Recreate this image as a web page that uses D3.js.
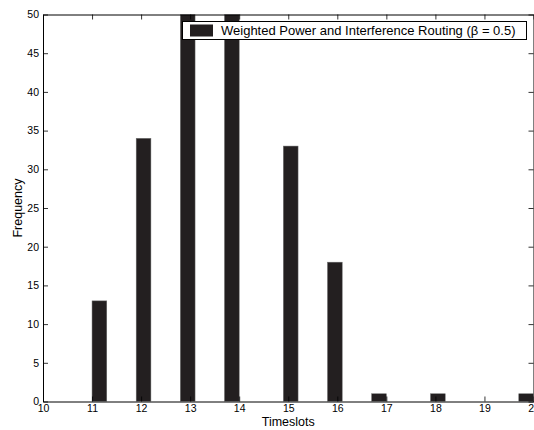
<!DOCTYPE html>
<html>
<head>
<meta charset="utf-8">
<script src="https://cdn.jsdelivr.net/npm/d3@7"></script>
<style>
  body { margin: 0; background: #fff; }
  text { font-family: "Liberation Sans", Arial, sans-serif; }
</style>
</head>
<body>
<div id="chart-container"></div>
<script>
// raw timeslot values and how often each came out
const timeslots = [11, 12, 13, 14, 15, 16, 17, 18, 19, 20];
const frequency = [13, 34, 58, 53, 33, 18, 1, 1, 0, 1];
const xTicks = [10, 11, 12, 13, 14, 15, 16, 17, 18, 19, 20];
const yTicks = [0, 5, 10, 15, 20, 25, 30, 35, 40, 45, 50];
const seriesName = 'Weighted Power and Interference Routing (\u03B2 = 0.5)';
const nBins = 30;

const width = 534;
const height = 430;
const margin = { top: 14.5, right: 0.5, bottom: 28.5, left: 43 };

const svg = d3.select('#chart-container')
  .append('svg')
  .attr('width', width)
  .attr('height', height);

const x = d3.scaleLinear()
  .domain([10, 20])
  .range([margin.left, width - margin.right]);

const y = d3.scaleLinear()
  .domain([0, 50])
  .range([height - margin.bottom, margin.top]);

// histogram bins like matlab hist(data, 30)
const lo = d3.min(timeslots), hi = d3.max(timeslots);
const binW = (hi - lo) / nBins;
const bins = d3.range(nBins).map(i => ({ x0: lo + i * binW, x1: lo + (i + 1) * binW, n: 0 }));
timeslots.forEach((v, i) => {
  let k = Math.ceil((v - lo) * nBins / (hi - lo) - 1e-9) - 1;
  k = Math.max(0, Math.min(nBins - 1, k));
  bins[k].n += frequency[i];
});

svg.append('clipPath').attr('id', 'plot')
  .append('rect')
  .attr('x', x(10)).attr('y', y(50))
  .attr('width', x(20) - x(10)).attr('height', y(0) - y(50));

svg.append('g')
  .attr('clip-path', 'url(#plot)')
  .selectAll('rect')
  .data(bins.filter(d => d.n > 0))
  .join('rect')
    .attr('x', d => x(d.x0))
    .attr('y', d => y(d.n))
    .attr('width', d => x(d.x1) - x(d.x0))
    .attr('height', d => y(0) - y(d.n))
    .attr('fill', '#231f20')
    .attr('stroke', '#6b6b6b')
    .attr('stroke-width', 0.5);

// axes, matlab style with ticks inside
const tick = 5;
const axBottom = svg.append('g')
  .attr('transform', `translate(0,${y(0)})`)
  .call(d3.axisBottom(x).tickValues(xTicks).tickSizeInner(-tick).tickSizeOuter(0).tickPadding(3).tickFormat(d3.format('d')));
const axTop = svg.append('g')
  .attr('transform', `translate(0,${y(50)})`)
  .call(d3.axisTop(x).tickValues(xTicks).tickSizeInner(-tick).tickSizeOuter(0).tickFormat(''));
const axLeft = svg.append('g')
  .attr('transform', `translate(${x(10)},0)`)
  .call(d3.axisLeft(y).tickValues(yTicks).tickSizeInner(-tick).tickSizeOuter(0).tickPadding(4).tickFormat(d3.format('d')));
const axRight = svg.append('g')
  .attr('transform', `translate(${x(20)},0)`)
  .call(d3.axisRight(y).tickValues(yTicks).tickSizeInner(-tick).tickSizeOuter(0).tickFormat(''));

[axBottom, axTop, axLeft, axRight].forEach(g => {
  g.selectAll('path.domain').attr('stroke', '#000').attr('stroke-width', 1);
  g.selectAll('.tick line').attr('stroke', '#000').attr('stroke-width', 0.8);
  g.selectAll('text').attr('font-size', 10.5).attr('font-family', '"Liberation Sans", Arial, sans-serif').attr('fill', '#000');
});

svg.append('text')
  .attr('x', (x(10) + x(20)) / 2)
  .attr('y', 426)
  .attr('text-anchor', 'middle')
  .attr('font-size', 12.5)
  .text('Timeslots');

svg.append('text')
  .attr('transform', `translate(22,${(y(0) + y(50)) / 2}) rotate(-90)`)
  .attr('text-anchor', 'middle')
  .attr('font-size', 12.5)
  .text('Frequency');

// legend
const legend = svg.append('g');
legend.append('rect')
  .attr('x', 182.5).attr('y', 21.5)
  .attr('width', 344).attr('height', 18)
  .attr('fill', '#fff').attr('stroke', '#000').attr('stroke-width', 1);
legend.append('rect')
  .attr('x', 190).attr('y', 24.5)
  .attr('width', 23).attr('height', 12)
  .attr('fill', '#231f20');
legend.append('text')
  .attr('x', 221).attr('y', 35)
  .attr('font-size', 13)
  .text(seriesName);
</script>
</body>
</html>
